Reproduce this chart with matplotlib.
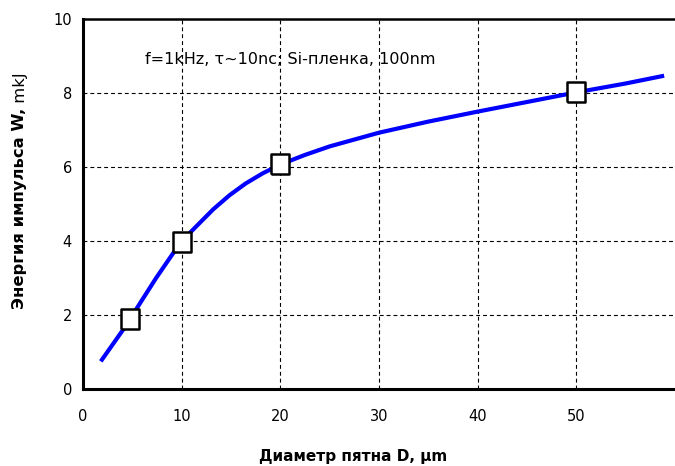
import numpy as np
import matplotlib
matplotlib.use("Agg")
import matplotlib.pyplot as plt

# curve
curve_d = [1.8, 4.1, 5.8, 7.4, 9.1, 10.0, 11.0, 13.2, 14.85, 16.5, 18.2, 20.0,
           22.5, 25.0, 30.0, 35.0, 40.0, 45.0, 50.0, 55.0, 58.9]
curve_w = [0.75, 1.62, 2.33, 3.0, 3.66, 3.98, 4.27, 4.86, 5.24, 5.56, 5.83, 6.07,
           6.33, 6.56, 6.93, 7.23, 7.5, 7.76, 8.02, 8.26, 8.47]

# measured points (square markers)
meas_d = [4.8, 10, 20, 50]
meas_w = [1.9, 3.98, 6.08, 8.02]

x_ticks = [0, 10, 20, 30, 40, 50]
y_ticks = [0, 2, 4, 6, 8, 10]

note = "f=1kHz, \u03c4~10nc; Si-\u043f\u043b\u0435\u043d\u043a\u0430, 100nm"
xlabel = "\u0414\u0438\u0430\u043c\u0435\u0442\u0440 \u043f\u044f\u0442\u043d\u0430 D, \u00b5m"
ylabel_bold = "\u042d\u043d\u0435\u0440\u0433\u0438\u044f \u0438\u043c\u043f\u0443\u043b\u044c\u0441\u0430 W,"
ylabel_unit = " mkJ"

plt.rcParams['font.family'] = ['DejaVu Sans']

fig = plt.figure(figsize=(6.75, 4.66), dpi=100)
ax = fig.add_axes([0.123, 0.165, 0.877, 0.794])

ax.plot(curve_d, curve_w, color='#0000ff', lw=3, solid_capstyle='butt',
        solid_joinstyle='round', zorder=3)
# slightly tall squares like in the original
box = [(-0.85, -1), (0.85, -1), (0.85, 1), (-0.85, 1), (-0.85, -1)]
ax.plot(meas_d, meas_w, ls='none', marker=box, ms=15, mfc='white', mec='black',
        mew=1.8, zorder=4)

ax.set_xlim(0, 60)
ax.set_ylim(0, 10)
ax.set_xticks(x_ticks)
ax.set_yticks(y_ticks)
ax.tick_params(length=0, labelsize=10.5)
ax.tick_params(axis='x', pad=14)
ax.tick_params(axis='y', pad=8)

ax.grid(True, color='black', ls=(0, (3.5, 2.7)), lw=0.8)
ax.set_axisbelow(True)

ax.spines['right'].set_visible(False)
ax.spines['left'].set_linewidth(2.2)
ax.spines['bottom'].set_linewidth(2.2)
ax.spines['top'].set_linewidth(1.8)

ax.text(6.3, 8.9, note, fontsize=11.5, va='center', ha='left')

fig.text(353 / 675, 1 - 457 / 466, xlabel, fontsize=11, fontweight='bold',
         ha='center', va='center')

# y label: bold part + plain unit
t1 = fig.text(20 / 675, 1 - 309 / 466, ylabel_bold, fontsize=11.8, fontweight='bold',
              rotation=90, ha='center', va='bottom')
fig.canvas.draw()
bb = t1.get_window_extent()
fig.text(20 / 675, bb.y1 / fig.bbox.height, ylabel_unit, fontsize=11.8,
         rotation=90, ha='center', va='bottom')

fig.savefig("out.png", dpi=100)
